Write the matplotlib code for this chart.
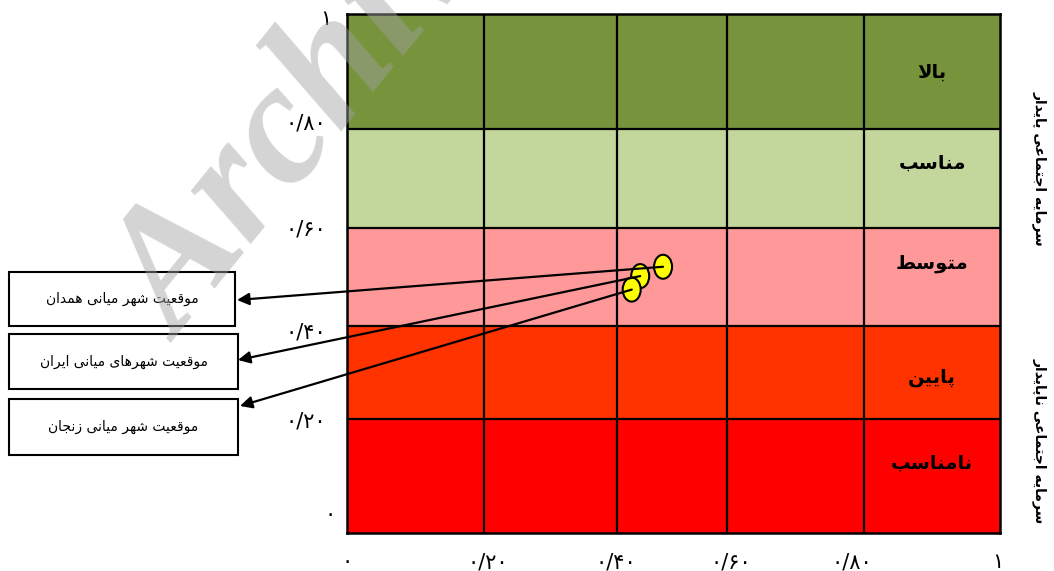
import matplotlib
matplotlib.use("Agg")
import matplotlib.pyplot as plt
from matplotlib.patches import Rectangle, Ellipse
from matplotlib.transforms import ScaledTranslation

# ---------------- data ----------------
band_labels = ['نامناسب', 'پایین', 'متوسط', 'مناسب', 'بالا']          # bottom -> top
band_colors = ['#FF0000', '#FF3300', '#FF9999', '#C3D69B', '#77933C']
band_edges_y = [0.0, 0.220, 0.399, 0.588, 0.778, 1.0]
grid_x = [0.0, 0.210, 0.413, 0.582, 0.792, 1.0]

point_names = ['موقعیت شهر میانی همدان', 'موقعیت شهرهای میانی ایران', 'موقعیت شهر میانی زنجان']
point_x = [0.484, 0.449, 0.436]
point_y = [0.513, 0.495, 0.469]

x_tick_pos = [0.0, 0.216, 0.412, 0.588, 0.773, 0.997]
x_tick_labels = ['۰', '۰/۲۰', '۰/۴۰', '۰/۶۰', '۰/۸۰', '۱']
y_tick_pos = [0.0385, 0.218, 0.391, 0.588, 0.7925, 0.995]
y_tick_labels = ['۰', '۰/۲۰', '۰/۴۰', '۰/۶۰', '۰/۸۰', '۱']

side_labels = ['سرمایه اجتماعی پایدار', 'سرمایه اجتماعی ناپایدار']

# ---------------- Persian shaping (presentation forms + visual order) ----------------
FORMS = {
    'ا': ('\uFE8D', '\uFE8E', None, None),
    'ب': ('\uFE8F', '\uFE90', '\uFE91', '\uFE92'),
    'پ': ('\uFB56', '\uFB57', '\uFB58', '\uFB59'),
    'ت': ('\uFE95', '\uFE96', '\uFE97', '\uFE98'),
    'ج': ('\uFE9D', '\uFE9E', '\uFE9F', '\uFEA0'),
    'د': ('\uFEA9', '\uFEAA', None, None),
    'ر': ('\uFEAD', '\uFEAE', None, None),
    'ز': ('\uFEAF', '\uFEB0', None, None),
    'س': ('\uFEB1', '\uFEB2', '\uFEB3', '\uFEB4'),
    'ش': ('\uFEB5', '\uFEB6', '\uFEB7', '\uFEB8'),
    'ط': ('\uFEC1', '\uFEC2', '\uFEC3', '\uFEC4'),
    'ع': ('\uFEC9', '\uFECA', '\uFECB', '\uFECC'),
    'ق': ('\uFED5', '\uFED6', '\uFED7', '\uFED8'),
    'ل': ('\uFEDD', '\uFEDE', '\uFEDF', '\uFEE0'),
    'م': ('\uFEE1', '\uFEE2', '\uFEE3', '\uFEE4'),
    'ن': ('\uFEE5', '\uFEE6', '\uFEE7', '\uFEE8'),
    'ه': ('\uFEE9', '\uFEEA', '\uFEEB', '\uFEEC'),
    'و': ('\uFEED', '\uFEEE', None, None),
    'ی': ('\uFBFC', '\uFBFD', '\uFBFE', '\uFBFF'),
}


def fa(s):
    def dual(c):
        return c in FORMS and FORMS[c][2] is not None
    out = []
    n = len(s)
    i = 0
    while i < n:
        c = s[i]
        if c not in FORMS:
            out.append(c)
            i += 1
            continue
        prev = s[i - 1] if i > 0 else None
        link_prev = prev is not None and dual(prev)
        if c == 'ل' and i + 1 < n and s[i + 1] == 'ا':
            out.append('\uFEFC' if link_prev else '\uFEFB')
            i += 2
            continue
        nxt = s[i + 1] if i + 1 < n else None
        link_next = dual(c) and nxt is not None and nxt in FORMS
        iso, fin, ini, med = FORMS[c]
        if link_prev and link_next:
            out.append(med)
        elif link_prev:
            out.append(fin)
        elif link_next:
            out.append(ini)
        else:
            out.append(iso)
        i += 1
    return ''.join(reversed(out))


plt.rcParams['font.family'] = ['DejaVu Sans']

W, H = 1054, 571
fig = plt.figure(figsize=(W / 100, H / 100), dpi=100)
ax = fig.add_axes([347 / W, (H - 533) / H, 653 / W, 519 / H])
ax.set_xlim(0, 1)
ax.set_ylim(0, 1)

# bands
for lo, hi, col in zip(band_edges_y[:-1], band_edges_y[1:], band_colors):
    ax.axhspan(lo, hi, color=col, zorder=0, lw=0)
for yv in band_edges_y[1:-1]:
    ax.axhline(yv, color='black', lw=1.6, zorder=1)
for xv in grid_x[1:-1]:
    ax.axvline(xv, color='black', lw=1.6, zorder=1)
for sp in ax.spines.values():
    sp.set_linewidth(1.8)
    sp.set_zorder(5)

# band labels (in last column)
label_offsets = [-13, 5, -13, -15, 1]  # px shift (negative = upwards)
lx = (grid_x[-2] + grid_x[-1]) / 2
for lo, hi, lab, off in zip(band_edges_y[:-1], band_edges_y[1:], band_labels, label_offsets):
    t = ax.text(lx, (lo + hi) / 2, fa(lab), ha='center', va='center',
                fontsize=14, fontweight='bold', color='black', zorder=6)
    t.set_transform(ax.transData + ScaledTranslation(0, -off / 100, fig.dpi_scale_trans))

# ticks
ax.set_xticks(x_tick_pos)
ax.set_xticklabels(x_tick_labels, fontsize=15)
ax.set_yticks(y_tick_pos)
ax.set_yticklabels(y_tick_labels, fontsize=15)
ax.tick_params(axis='x', length=0, pad=14)
ax.tick_params(axis='y', length=0, pad=15)
ylabs = ax.get_yticklabels()
ylabs[0].set_transform(ylabs[0].get_transform() + ScaledTranslation(10 / 100, 0, fig.dpi_scale_trans))
ylabs[-1].set_transform(ylabs[-1].get_transform() + ScaledTranslation(5 / 100, 0, fig.dpi_scale_trans))

# points
for px, py in zip(point_x, point_y):
    ax.add_patch(Ellipse((px, py), 18 / 653, 24 / 519, facecolor='#FFFF00',
                         edgecolor='black', lw=1.5, zorder=7))

# boxes (figure pixel layout)
boxes = [(9, 272, 235, 326), (9, 334, 238, 389), (9, 399, 238, 455)]
tips = [(237, 300), (238, 360), (240, 406)]
for name, (x0, y0, x1, y1), (tx, ty), px, py in zip(point_names, boxes, tips, point_x, point_y):
    fig.add_artist(Rectangle((x0 / W, 1 - y1 / H), (x1 - x0) / W, (y1 - y0) / H,
                             transform=fig.transFigure, facecolor='white',
                             edgecolor='black', lw=1.5))
    fig.text((x0 + x1) / 2 / W, 1 - (y0 + y1) / 2 / H, fa(name), ha='center', va='center',
             fontsize=10, color='black')
    ax.annotate('', xy=(tx / W, 1 - ty / H), xycoords='figure fraction',
                xytext=(px, py), textcoords='data',
                arrowprops=dict(arrowstyle='-|>', color='black', lw=1.6,
                                mutation_scale=18, shrinkA=0, shrinkB=0),
                annotation_clip=False, zorder=8)

# side labels (read top-to-bottom)
fig.text(1040 / W, 1 - 168 / H, fa(side_labels[0]), rotation=270, ha='center', va='center',
         fontsize=10, fontweight='bold')
fig.text(1040 / W, 1 - 441 / H, fa(side_labels[1]), rotation=270, ha='center', va='center',
         fontsize=10, fontweight='bold')

# watermark (runs off the top edge, as in the reference)
fig.text(180 / W, 1 - 343 / H, 'Archive of SID', rotation=51, rotation_mode='anchor',
         ha='left', va='baseline', fontsize=125, fontweight='bold', fontstyle='italic',
         family='Liberation Serif', color='#a1a1a1', alpha=0.46, zorder=20)

fig.savefig('out.png', dpi=100)
